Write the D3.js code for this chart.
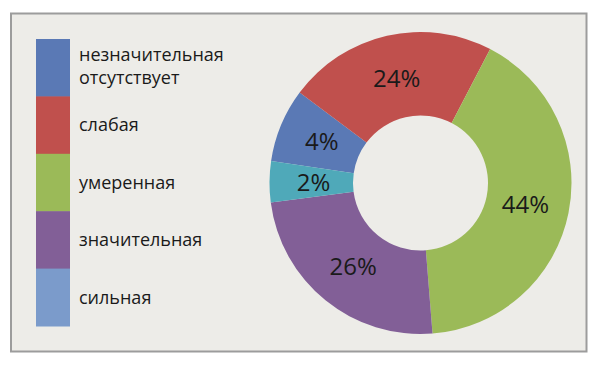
<!DOCTYPE html>
<html>
<head>
<meta charset="utf-8">
<script src="https://cdn.jsdelivr.net/npm/d3@7"></script>
<style>
  html, body { margin: 0; padding: 0; background: #fff; }
  svg { display: block; }
</style>
</head>
<body>
<svg id="chart"></svg>
<script>
const width = 600
const height = 366

// legend categories (the first one takes two lines)
const categories = [
  ["незначительная", "отсутствует"],
  ["слабая"],
  ["умеренная"],
  ["значительная"],
  ["сильная"]
]
// share of the ring each slice takes
const shares = [7.9, 22.4, 41.1, 24.2, 4.4]
// the text printed on each slice
const sliceLabels = ["4%", "24%", "44%", "26%", "2%"]
const sliceColors = ["#5a79b5", "#c0504d", "#9bba58", "#825f97", "#4fa9b9"]
const legendColors = ["#5a79b5", "#c0504d", "#9bba58", "#825f97", "#7b9bcb"]

const svg = d3.select("#chart")
  .attr("width", width)
  .attr("height", height)

// frame
svg.append("rect")
  .attr("x", 11)
  .attr("y", 13.5)
  .attr("width", 575.5)
  .attr("height", 338)
  .attr("fill", "#edece8")
  .attr("stroke", "#9c9c9c")
  .attr("stroke-width", 2)

// legend
const swatchH = 57.4
const legend = svg.append("g").attr("transform", "translate(36,39)")

const item = legend.selectAll("g.item")
  .data(categories)
  .join("g")
  .attr("class", "item")
  .attr("transform", (d, i) => `translate(0,${i * swatchH})`)

item.append("rect")
  .attr("width", 34)
  .attr("height", swatchH + 0.5)
  .attr("fill", (d, i) => legendColors[i])

item.append("text")
  .attr("x", 43)
  .attr("y", d => d.length > 1 ? 22 : 35)
  .style("font-family", "'Open Sans', sans-serif")
  .style("font-size", "18px")
  .style("fill", "#1a1a1a")
  .selectAll("tspan")
  .data(d => d)
  .join("tspan")
  .attr("x", 43)
  .attr("dy", (d, i) => i === 0 ? 0 : 23)
  .text(d => d)

// donut
const cx = 420.5
const cy = 183
const outerR = 151
const innerR = 67.5

const pie = d3.pie()
  .sort(null)
  .startAngle(278.4 * Math.PI / 180)
  .endAngle((278.4 + 360) * Math.PI / 180)

const arc = d3.arc().innerRadius(innerR).outerRadius(outerR)
const labelArc = d3.arc().innerRadius(107).outerRadius(107)

const donut = svg.append("g").attr("transform", `translate(${cx},${cy})`)
const arcs = pie(shares)

donut.selectAll("path")
  .data(arcs)
  .join("path")
  .attr("d", arc)
  .attr("fill", (d, i) => sliceColors[i])

donut.selectAll("text")
  .data(arcs)
  .join("text")
  .attr("transform", d => `translate(${labelArc.centroid(d)})`)
  .attr("text-anchor", "middle")
  .attr("dy", "0.36em")
  .style("font-family", "'Open Sans', sans-serif")
  .style("font-size", "24px")
  .style("fill", "#1a1a1a")
  .text((d, i) => sliceLabels[i])
</script>
</body>
</html>
